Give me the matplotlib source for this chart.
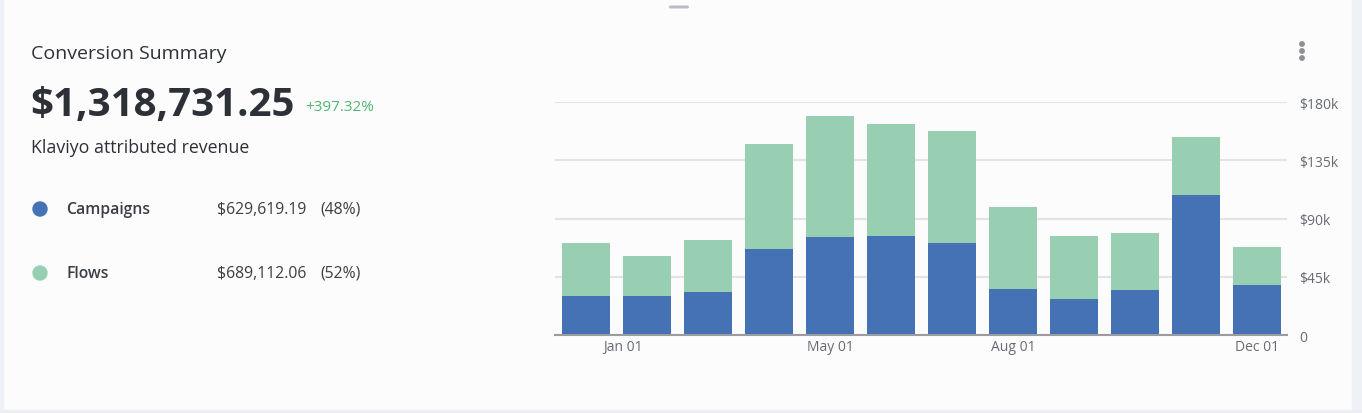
import matplotlib
matplotlib.use("Agg")
import matplotlib.pyplot as plt
from matplotlib.patches import FancyBboxPatch, Circle

plt.rcParams['font.family'] = ['Open Sans', 'DejaVu Sans']

# monthly revenue, in $k
campaigns = [30.4, 30.4, 33.5, 66.2, 76.0, 76.7, 71.3, 35.5, 27.6, 35.0, 108.2, 38.9]
flows = [40.4, 30.9, 39.9, 81.4, 93.5, 86.3, 86.0, 63.6, 48.9, 43.8, 44.5, 29.3]
month_ticks = [0.6, 4, 7, 11]
month_labels = ['Jan 01', 'May 01', 'Aug 01', 'Dec 01']
y_ticks = [0, 45, 90, 135, 180]
y_labels = ['0', '$45k', '$90k', '$135k', '$180k']

total = '$1,318,731.25'
change = '+397.32%'
legend_rows = [('Campaigns', '$629,619.19', '(48%)'), ('Flows', '$689,112.06', '(52%)')]

blue = '#4571b5'
green = '#98cfb3'
dark = '#2d3137'
gray = '#666b72'

W, H = 1362, 414
fig = plt.figure(figsize=(W / 100, H / 100), dpi=100)
fig.patch.set_facecolor('#fcfcfc')

# card edges and handle
bg = fig.add_axes([0, 0, 1, 1])
bg.set_xlim(0, W)
bg.set_ylim(H, 0)
bg.axis('off')
bg.add_patch(plt.Rectangle((0, 0), 3, H, color='#eef1f5'))
bg.add_patch(plt.Rectangle((1352, 0), 10, H, color='#eef1f5'))
bg.add_patch(plt.Rectangle((0, 411.5), W, 2.5, color='#eceef1'))
bg.add_patch(FancyBboxPatch((669, 6.5), 20, 3, boxstyle='round,pad=0,rounding_size=1.5',
                            color='#b8bdc4', lw=0))
for yy in (45, 52, 59):
    bg.add_patch(Circle((1302, yy), 2.2, color='#8c9097'))

bg.text(31, 54, 'Conversion Summary', fontsize=14, fontweight='medium', color=dark,
        va='center', ha='left')
bg.text(30, 106, total, fontsize=29, fontweight='bold', color=dark, va='center', ha='left')
bg.text(305, 108, change, fontsize=11, color='#52b56f', va='center', ha='left')
bg.text(31, 148, 'Klaviyo attributed revenue', fontsize=12.8, fontweight='medium', color=dark,
        va='center', ha='left')

for i, (name, amount, pct) in enumerate(legend_rows):
    yy = 210 + i * 64
    bg.add_patch(Circle((40, yy), 7, color=[blue, green][i]))
    bg.text(66, yy, name, fontsize=11.3, fontweight='semibold', color='#3a3e44', va='center', ha='left')
    bg.text(217, yy, amount, fontsize=11.3, color='#3a3e44', va='center', ha='left')
    bg.text(320, yy, pct, fontsize=11.3, color='#3a3e44', va='center', ha='left')

# bar chart
ax = fig.add_axes([555 / W, 1 - 336 / H, 732 / W, 233 / H])
ax.set_facecolor('none')
x = range(len(campaigns))
ax.bar(x, campaigns, width=0.79, color=blue, zorder=3)
ax.bar(x, flows, width=0.79, bottom=campaigns, color=green, zorder=3)
ax.set_xlim(-0.51, 11.49)
ax.set_ylim(0, 180)
ax.set_yticks(y_ticks)
ax.set_yticklabels(y_labels)
ax.yaxis.tick_right()
ax.set_xticks(month_ticks)
ax.set_xticklabels(month_labels)
ax.tick_params(axis='both', length=0, labelsize=10, colors=gray)
ax.tick_params(axis='y', pad=9)
ax.tick_params(axis='x', pad=3)
ax.grid(axis='y', color='#e2e3e5', lw=1.5, zorder=0)
for s in ('top', 'left', 'right'):
    ax.spines[s].set_visible(False)
ax.spines['bottom'].set_color('#9a9ca0')
ax.spines['bottom'].set_linewidth(1.5)
ax.spines['bottom'].set_zorder(4)

fig.savefig('out.png', dpi=100, facecolor=fig.get_facecolor())
